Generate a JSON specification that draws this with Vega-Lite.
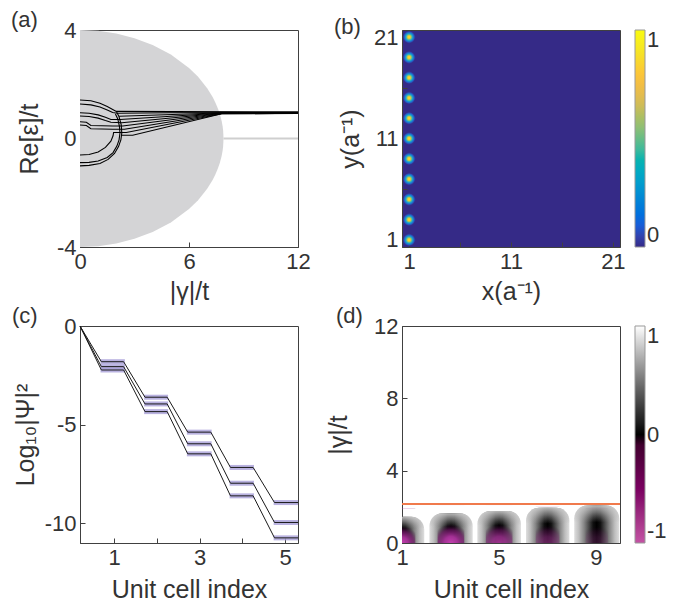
{
  "$schema": "https://vega.github.io/schema/vega-lite/v6.json",
  "background": "white",
  "padding": {"left": 10, "top": 8, "right": 0, "bottom": 0},
  "autosize": {"type": "pad"},
  "columns": 2,
  "bounds": "flush",
  "spacing": {"row": 79, "column": 104},
  "resolve": {"scale": {"color": "independent", "x": "independent", "y": "independent"}, "legend": {"color": "independent"}},
  "datasets": {
    "ell": [
      {"g": 0, "hi": 4, "lo": -4}, {"g": 1, "hi": 3.968, "lo": -3.968}, {"g": 2, "hi": 3.87, "lo": -3.87},
      {"g": 3, "hi": 3.7, "lo": -3.7}, {"g": 4, "hi": 3.449, "lo": -3.449}, {"g": 5, "hi": 3.097, "lo": -3.097},
      {"g": 6, "hi": 2.602, "lo": -2.602}, {"g": 6.5, "hi": 2.273, "lo": -2.273}, {"g": 7, "hi": 1.854, "lo": -1.854},
      {"g": 7.3, "hi": 1.529, "lo": -1.529}, {"g": 7.45, "hi": 1.331, "lo": -1.331}, {"g": 7.6, "hi": 1.092, "lo": -1.092},
      {"g": 7.7, "hi": 0.894, "lo": -0.894}, {"g": 7.8, "hi": 0.635, "lo": -0.635}, {"g": 7.85, "hi": 0.449, "lo": -0.449},
      {"g": 7.88, "hi": 0.284, "lo": -0.284}, {"g": 7.9, "hi": 0, "lo": 0}
    ],
    "curves": [
      {"k": "T1", "g": 0, "E": 1.42}, {"k": "T1", "g": 0.6, "E": 1.39}, {"k": "T1", "g": 1.1, "E": 1.3}, {"k": "T1", "g": 1.5, "E": 1.18}, {"k": "T1", "g": 1.8, "E": 1.07}, {"k": "T1", "g": 2.0, "E": 1.0}, {"k": "T1", "g": 5, "E": 0.99}, {"k": "T1", "g": 12, "E": 0.98},
      {"k": "T2", "g": 0, "E": 1.27}, {"k": "T2", "g": 0.6, "E": 1.24}, {"k": "T2", "g": 1.1, "E": 1.16}, {"k": "T2", "g": 1.5, "E": 1.05}, {"k": "T2", "g": 1.8, "E": 0.96}, {"k": "T2", "g": 2.05, "E": 0.93}, {"k": "T2", "g": 5, "E": 0.95}, {"k": "T2", "g": 12, "E": 0.96},
      {"k": "R1", "g": 2.0, "E": 1.0}, {"k": "R1", "g": 2.15, "E": 0.8}, {"k": "R1", "g": 2.27, "E": 0.5}, {"k": "R1", "g": 2.3, "E": 0.2}, {"k": "R1", "g": 2.25, "E": -0.05}, {"k": "R1", "g": 2.12, "E": -0.3}, {"k": "R1", "g": 1.9, "E": -0.55}, {"k": "R1", "g": 1.55, "E": -0.77}, {"k": "R1", "g": 1.1, "E": -0.92}, {"k": "R1", "g": 0.5, "E": -0.99}, {"k": "R1", "g": 0, "E": -1.01},
      {"k": "R2", "g": 1.95, "E": 0.9}, {"k": "R2", "g": 2.08, "E": 0.72}, {"k": "R2", "g": 2.17, "E": 0.45}, {"k": "R2", "g": 2.2, "E": 0.2}, {"k": "R2", "g": 2.15, "E": -0.05}, {"k": "R2", "g": 2.03, "E": -0.28}, {"k": "R2", "g": 1.82, "E": -0.52}, {"k": "R2", "g": 1.5, "E": -0.7}, {"k": "R2", "g": 1.0, "E": -0.83}, {"k": "R2", "g": 0.5, "E": -0.88}, {"k": "R2", "g": 0, "E": -0.89},
      {"k": "M1", "g": 0, "E": 0.95}, {"k": "M1", "g": 0.5, "E": 0.93}, {"k": "M1", "g": 1.0, "E": 0.87}, {"k": "M1", "g": 1.4, "E": 0.78}, {"k": "M1", "g": 1.7, "E": 0.7}, {"k": "M1", "g": 2.2, "E": 0.7}, {"k": "M1", "g": 7.6, "E": 0.93}, {"k": "M1", "g": 12, "E": 0.95},
      {"k": "M2", "g": 0, "E": 0.83}, {"k": "M2", "g": 0.5, "E": 0.81}, {"k": "M2", "g": 1.0, "E": 0.75}, {"k": "M2", "g": 1.4, "E": 0.66}, {"k": "M2", "g": 1.7, "E": 0.6}, {"k": "M2", "g": 2.3, "E": 0.58}, {"k": "M2", "g": 7.7, "E": 0.93}, {"k": "M2", "g": 12, "E": 0.94},
      {"k": "I1", "g": 0, "E": 0.62}, {"k": "I1", "g": 0.35, "E": 0.6}, {"k": "I1", "g": 0.6, "E": 0.48}, {"k": "I1", "g": 1.8, "E": 0.46}, {"k": "I1", "g": 2.35, "E": 0.46}, {"k": "I1", "g": 7.7, "E": 0.92}, {"k": "I1", "g": 12, "E": 0.94},
      {"k": "I2", "g": 0, "E": 0.5}, {"k": "I2", "g": 0.35, "E": 0.48}, {"k": "I2", "g": 0.6, "E": 0.36}, {"k": "I2", "g": 1.8, "E": 0.34}, {"k": "I2", "g": 2.45, "E": 0.34}, {"k": "I2", "g": 7.8, "E": 0.92}, {"k": "I2", "g": 12, "E": 0.93},
      {"k": "C3", "g": 0, "E": -0.61}, {"k": "C3", "g": 0.5, "E": -0.59}, {"k": "C3", "g": 1.0, "E": -0.5}, {"k": "C3", "g": 1.4, "E": -0.33}, {"k": "C3", "g": 1.7, "E": -0.1}, {"k": "C3", "g": 1.82, "E": 0.1}, {"k": "C3", "g": 1.85, "E": 0.22}, {"k": "C3", "g": 2.55, "E": 0.22}, {"k": "C3", "g": 7.8, "E": 0.91}, {"k": "C3", "g": 12, "E": 0.93},
      {"k": "B1", "g": 2.3, "E": 0.12}, {"k": "B1", "g": 2.9, "E": 0.12}, {"k": "B1", "g": 7.8, "E": 0.91}, {"k": "B1", "g": 12, "E": 0.92},
      {"k": "X1", "g": 2.15, "E": 0.82}, {"k": "X1", "g": 7.6, "E": 0.94}, {"k": "X1", "g": 12, "E": 0.96}
    ],
    "spots": [
      {"x": 1, "y": 1}, {"x": 1, "y": 3}, {"x": 1, "y": 5}, {"x": 1, "y": 7}, {"x": 1, "y": 9}, {"x": 1, "y": 11},
      {"x": 1, "y": 13}, {"x": 1, "y": 15}, {"x": 1, "y": 17}, {"x": 1, "y": 19}, {"x": 1, "y": 21}
    ],
    "psi": [
      {"s": 1, "x": 0.2, "y": 0}, {"s": 1, "x": 0.7, "y": -1.81}, {"s": 1, "x": 1.22, "y": -1.81}, {"s": 1, "x": 1.72, "y": -3.61}, {"s": 1, "x": 2.24, "y": -3.61}, {"s": 1, "x": 2.72, "y": -5.38}, {"s": 1, "x": 3.26, "y": -5.38}, {"s": 1, "x": 3.72, "y": -7.17}, {"s": 1, "x": 4.25, "y": -7.17}, {"s": 1, "x": 4.75, "y": -8.95}, {"s": 1, "x": 5.3, "y": -8.95},
      {"s": 2, "x": 0.2, "y": 0}, {"s": 2, "x": 0.7, "y": -2.06}, {"s": 2, "x": 1.22, "y": -2.06}, {"s": 2, "x": 1.72, "y": -3.95}, {"s": 2, "x": 2.24, "y": -3.95}, {"s": 2, "x": 2.72, "y": -5.97}, {"s": 2, "x": 3.26, "y": -5.97}, {"s": 2, "x": 3.72, "y": -7.97}, {"s": 2, "x": 4.25, "y": -7.97}, {"s": 2, "x": 4.75, "y": -9.96}, {"s": 2, "x": 5.3, "y": -9.96},
      {"s": 3, "x": 0.2, "y": 0}, {"s": 3, "x": 0.7, "y": -2.23}, {"s": 3, "x": 1.22, "y": -2.23}, {"s": 3, "x": 1.72, "y": -4.34}, {"s": 3, "x": 2.24, "y": -4.34}, {"s": 3, "x": 2.72, "y": -6.48}, {"s": 3, "x": 3.26, "y": -6.48}, {"s": 3, "x": 3.72, "y": -8.61}, {"s": 3, "x": 4.25, "y": -8.61}, {"s": 3, "x": 4.75, "y": -10.74}, {"s": 3, "x": 5.3, "y": -10.74}
    ],
    "halo": [
      {"a": 0.68, "b": 1.25, "y": -1.81}, {"a": 0.68, "b": 1.25, "y": -2.06}, {"a": 0.68, "b": 1.25, "y": -2.23},
      {"a": 1.7, "b": 2.26, "y": -3.61}, {"a": 1.7, "b": 2.26, "y": -3.95}, {"a": 1.7, "b": 2.26, "y": -4.34},
      {"a": 2.7, "b": 3.28, "y": -5.38}, {"a": 2.7, "b": 3.28, "y": -5.97}, {"a": 2.7, "b": 3.28, "y": -6.48},
      {"a": 3.7, "b": 4.27, "y": -7.17}, {"a": 3.7, "b": 4.27, "y": -7.97}, {"a": 3.7, "b": 4.27, "y": -8.61},
      {"a": 4.73, "b": 5.3, "y": -8.95}, {"a": 4.73, "b": 5.3, "y": -9.96}, {"a": 4.73, "b": 5.3, "y": -10.74}
    ],
    "domes": [
      {"x": 0.08, "x2": 1.92, "b0": 0, "h": 1.45, "pa": 0.45, "pb": 1.55, "ph": 1.9, "p": 1},
      {"x": 2.13, "x2": 3.92, "b0": 0, "h": 1.64, "pa": 2.47, "pb": 3.57, "ph": 2.1, "p": 1},
      {"x": 4.11, "x2": 5.91, "b0": 0, "h": 1.77, "pa": 4.46, "pb": 5.56, "ph": 2.1, "p": 0.8},
      {"x": 6.12, "x2": 7.91, "b0": 0, "h": 1.95, "pa": 6.52, "pb": 7.5, "ph": 2.0, "p": 0.5},
      {"x": 8.11, "x2": 9.97, "b0": 0, "h": 2.07, "pa": 8.58, "pb": 9.5, "ph": 1.9, "p": 0.25}
    ]
  },
  "concat": [
    {
      "width": 218, "height": 217,
      "title": {"text": "(a)", "dx": -69, "dy": 17},
      "layer": [
        {
          "data": {"name": "ell"},
          "mark": {"type": "area", "color": "#d4d4d6"},
          "encoding": {
            "x": {"field": "g", "type": "quantitative", "scale": {"domain": [0, 12], "nice": false}, "axis": {"values": [0, 6, 12], "title": "|γ|/t", "titlePadding": 7}},
            "y": {"field": "hi", "type": "quantitative", "scale": {"domain": [-4, 4], "nice": false}, "axis": {"values": [-4, -2, 0, 2, 4], "labelExpr": "datum.value % 4 == 0 ? (datum.value < 0 ? '-' + abs(datum.value) : '' + datum.value) : ''", "title": "Re[ε]/t", "titlePadding": 14}},
            "y2": {"field": "lo"}
          }
        },
        {
          "data": {"values": [{"a": 7.9, "b": 12, "z": 0}]},
          "mark": {"type": "rule", "color": "#cfcfcf", "strokeWidth": 2},
          "encoding": {"x": {"field": "a", "type": "quantitative"}, "x2": {"field": "b"}, "y": {"field": "z", "type": "quantitative"}}
        },
        {
          "data": {"name": "curves"},
          "mark": {"type": "line", "color": "#000000", "strokeWidth": 1.1},
          "encoding": {
            "x": {"field": "g", "type": "quantitative"},
            "y": {"field": "E", "type": "quantitative"},
            "detail": {"field": "k", "type": "nominal"},
            "order": {"value": null}
          }
        }
      ]
    },
    {
      "width": 218, "height": 217,
      "title": {"text": "(b)", "dx": -68, "dy": 17},
      "view": {"fill": "#352a87"},
      "layer": [
        {
          "data": {"name": "spots"},
          "mark": {"type": "point", "filled": true, "size": 150, "opacity": 1, "strokeWidth": 0,
            "fill": {"gradient": "radial", "x1": 0.5, "y1": 0.5, "r1": 0, "x2": 0.5, "y2": 0.5, "r2": 0.5,
              "stops": [{"offset": 0, "color": "#fbe61c"}, {"offset": 0.22, "color": "#f6cc30"}, {"offset": 0.38, "color": "#8cc274"}, {"offset": 0.5, "color": "#22b4c4"}, {"offset": 0.68, "color": "#1583d6"}, {"offset": 0.85, "color": "#2a52bc"}, {"offset": 1, "color": "#352a87"}]}},
          "encoding": {
            "x": {"field": "x", "type": "quantitative", "scale": {"domain": [0.3, 21.7], "nice": false}, "axis": {"values": [1, 6, 11, 16, 21], "labelExpr": "datum.value == 6 || datum.value == 16 ? '' : datum.label", "title": "x(a⁻¹)", "titlePadding": 7}},
            "y": {"field": "y", "type": "quantitative", "scale": {"domain": [0.3, 21.7], "nice": false}, "axis": {"values": [1, 6, 11, 16, 21], "labelExpr": "datum.value == 6 || datum.value == 16 ? '' : datum.label", "title": "y(a⁻¹)", "titlePadding": 10}}
          }
        },
        {
          "data": {"name": "spots"},
          "mark": {"type": "point", "filled": true, "size": 1, "opacity": 0},
          "encoding": {
            "x": {"field": "x", "type": "quantitative"},
            "y": {"field": "y", "type": "quantitative"},
            "color": {"datum": 1, "type": "quantitative",
              "scale": {"domain": [0, 0.111, 0.222, 0.333, 0.444, 0.556, 0.667, 0.778, 0.889, 1], "range": ["#352a87", "#0363e1", "#1485d4", "#06a7c6", "#38b99e", "#92bf73", "#d9ba56", "#fcbf3c", "#f5e127", "#f9fb0e"]},
              "legend": {"values": [0, 1], "title": null, "format": ".0f"}}
          }
        }
      ]
    },
    {
      "width": 218, "height": 217,
      "title": {"text": "(c)", "dx": -68, "dy": 17},
      "layer": [
        {
          "data": {"name": "halo"},
          "mark": {"type": "rule", "color": "#a89fd8", "strokeWidth": 5, "opacity": 0.8},
          "encoding": {
            "x": {"field": "a", "type": "quantitative", "scale": {"domain": [0.2, 5.3], "nice": false}, "axis": {"values": [1, 2, 3, 4, 5], "labelExpr": "datum.value % 2 == 1 ? datum.label : ''", "title": "Unit cell index", "titlePadding": 9}},
            "x2": {"field": "b"},
            "y": {"field": "y", "type": "quantitative", "scale": {"domain": [-11, 0], "nice": false}, "axis": {"values": [0, -5, -10], "labelExpr": "datum.value < 0 ? '-' + abs(datum.value) : '' + datum.value", "title": "Log₁₀|Ψ|²", "titlePadding": 6}}
          }
        },
        {
          "data": {"name": "psi"},
          "mark": {"type": "line", "color": "#1a1a1a", "strokeWidth": 1},
          "encoding": {
            "x": {"field": "x", "type": "quantitative"},
            "y": {"field": "y", "type": "quantitative"},
            "detail": {"field": "s", "type": "nominal"}
          }
        }
      ]
    },
    {
      "width": 218, "height": 217,
      "title": {"text": "(d)", "dx": -66, "dy": 17},
      "layer": [
        {
          "data": {"name": "domes"},
          "mark": {"type": "rect", "clip": true, "cornerRadiusTopLeft": 13, "cornerRadiusTopRight": 13,
            "fill": {"gradient": "linear", "x1": 0, "y1": 0, "x2": 1, "y2": 0,
              "stops": [{"offset": 0, "color": "#dedede"}, {"offset": 0.1, "color": "#bebebe"}, {"offset": 0.22, "color": "#858585"}, {"offset": 0.33, "color": "#454545"}, {"offset": 0.42, "color": "#101010"}, {"offset": 0.5, "color": "#000000"}, {"offset": 0.58, "color": "#101010"}, {"offset": 0.67, "color": "#454545"}, {"offset": 0.78, "color": "#858585"}, {"offset": 0.9, "color": "#bebebe"}, {"offset": 1, "color": "#dedede"}]}},
          "encoding": {
            "x": {"field": "x", "type": "quantitative", "scale": {"domain": [1, 10], "nice": false}, "axis": {"values": [1, 5, 9], "title": "Unit cell index", "titlePadding": 9}},
            "x2": {"field": "x2"},
            "y": {"field": "b0", "type": "quantitative", "scale": {"domain": [0, 12], "nice": false}, "axis": {"values": [0, 4, 8, 12], "title": "|γ|/t", "titlePadding": 22}},
            "y2": {"field": "h"}
          }
        },
        {
          "data": {"name": "domes"},
          "mark": {"type": "rect", "clip": true, "cornerRadiusTopLeft": 13, "cornerRadiusTopRight": 13,
            "fill": {"gradient": "linear", "x1": 0, "y1": 0, "x2": 0, "y2": 1,
              "stops": [{"offset": 0, "color": "rgba(215,215,215,0.85)"}, {"offset": 0.2, "color": "rgba(200,200,200,0.5)"}, {"offset": 0.45, "color": "rgba(170,170,170,0)"}, {"offset": 1, "color": "rgba(170,170,170,0)"}]}},
          "encoding": {
            "x": {"field": "x", "type": "quantitative"},
            "x2": {"field": "x2"},
            "y": {"field": "b0", "type": "quantitative"},
            "y2": {"field": "h"}
          }
        },
        {
          "data": {"name": "domes"},
          "mark": {"type": "rect", "clip": true,
            "fill": {"gradient": "radial", "x1": 0.5, "y1": 1, "r1": 0, "x2": 0.5, "y2": 1, "r2": 0.5,
              "stops": [{"offset": 0, "color": "rgba(195,65,175,1)"}, {"offset": 0.35, "color": "rgba(170,50,155,0.95)"}, {"offset": 0.7, "color": "rgba(110,20,100,0.7)"}, {"offset": 1, "color": "rgba(30,0,30,0)"}]}},
          "encoding": {
            "x": {"field": "pa", "type": "quantitative"},
            "x2": {"field": "pb"},
            "y": {"field": "b0", "type": "quantitative"},
            "y2": {"field": "ph"},
            "opacity": {"field": "p", "type": "quantitative", "scale": null}
          }
        },
        {
          "data": {"name": "domes"},
          "mark": {"type": "point", "opacity": 0, "size": 1},
          "encoding": {
            "x": {"field": "x", "type": "quantitative"},
            "y": {"field": "h", "type": "quantitative"},
            "color": {"datum": 1, "type": "quantitative",
              "scale": {"domain": [-1, 0, 1], "range": ["#c452a4", "#000000", "#ffffff"]},
              "legend": {"values": [-1, 0, 1], "title": null, "format": ".0f", "labelExpr": "datum.value < 0 ? '-' + abs(datum.value) : datum.label"}}
          }
        },
        {
          "data": {"values": [{"v": 2.16}]},
          "mark": {"type": "rule", "color": "#f07a4c", "strokeWidth": 2},
          "encoding": {"y": {"field": "v", "type": "quantitative"}}
        }
      ]
    }
  ],
  "config": {
    "font": "Liberation Sans",
    "view": {"stroke": "#404040", "strokeWidth": 1},
    "axis": {"grid": false, "domainColor": "#404040", "tickColor": "#404040", "tickSize": -5, "labelFontSize": 22, "labelColor": "#333333", "titleFontSize": 25, "titleColor": "#333333", "titleFontWeight": "normal", "labelPadding": 9, "labelFont": "Liberation Sans", "titleFont": "Liberation Sans", "labelFlush": false, "labelOverlap": false},
    "legend": {"orient": "right", "offset": 15, "padding": 0, "gradientLength": 217, "gradientThickness": 10, "labelFontSize": 22, "labelColor": "#333333", "labelOffset": 4, "labelFont": "Liberation Sans", "gradientStrokeColor": "#999999", "gradientStrokeWidth": 1},
    "title": {"fontSize": 22, "fontWeight": "normal", "color": "#333333", "anchor": "start", "frame": "group", "font": "Liberation Sans"}
  }
}
